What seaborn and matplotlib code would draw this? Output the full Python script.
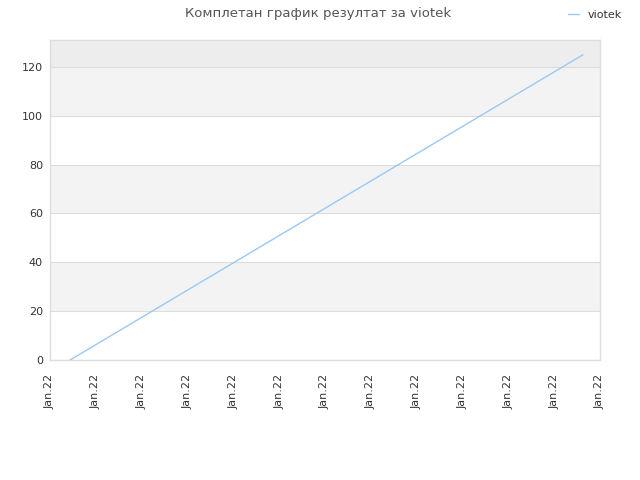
import numpy as np
import pandas as pd
import seaborn as sns
import matplotlib.pyplot as plt

# data
x_pos = [0.44, 11.63]
scores = [0, 125]
tick_pos = list(range(13))
tick_labels = ["Jan.22"] * 13
y_ticks = [0, 20, 40, 60, 80, 100, 120]

df = pd.DataFrame({"x": x_pos, "score": scores})

sns.set_style("white")
plt.rcParams['font.family'] = ['DejaVu Sans']

fig = plt.figure(figsize=(6.4, 4.8), dpi=100)
ax = fig.add_axes([0.078, 0.25, 0.8595, 0.6665])

ymax = 131
# background bands
for lo in [20, 60, 100]:
    ax.axhspan(lo, lo + 20, color="#f3f3f3", zorder=0, lw=0)
ax.axhspan(120, ymax, color="#ededed", zorder=0, lw=0)
for y in y_ticks:
    ax.axhline(y, color="#dddddd", lw=0.8, zorder=1)

sns.lineplot(data=df, x="x", y="score", ax=ax, color="#99c9f5", lw=1, label="viotek", zorder=3)

ax.set_xlim(0, 12)
ax.set_ylim(0, ymax)
ax.set_xticks(tick_pos)
ax.set_xticklabels(tick_labels, rotation=90, fontsize=8, color="#333333")
ax.set_yticks(y_ticks)
ax.set_yticklabels([str(v) for v in y_ticks], fontsize=8, color="#333333")
ax.tick_params(axis="x", length=0, pad=10)
ax.tick_params(axis="y", length=0, pad=5)
ax.set_xlabel("")
ax.set_ylabel("")
for s in ax.spines.values():
    s.set_color("#dddddd")
    s.set_linewidth(1)

handles, labels = ax.get_legend_handles_labels()
ax.get_legend().remove()
fig.legend(handles, labels, loc="upper right", bbox_to_anchor=(0.988, 1.0), frameon=False,
           fontsize=8, handlelength=1.0, labelcolor="#333333")

fig.suptitle("Комплетан график резултат за viotek", x=0.497, y=0.985, fontsize=9.5, color="#555555")

fig.savefig("out.png", dpi=100)
